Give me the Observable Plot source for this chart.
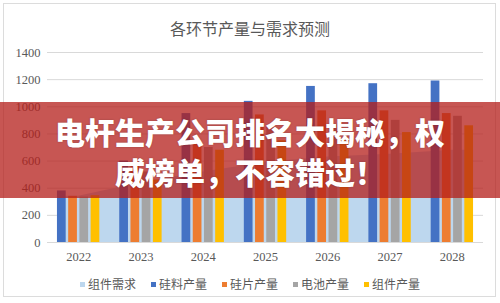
<!DOCTYPE html>
<html>
<head>
<meta charset="utf-8">
<script src="https://cdn.jsdelivr.net/npm/d3@7"></script>
<script src="https://cdn.jsdelivr.net/npm/@observablehq/plot@0.6"></script>
<style>
  html, body { margin: 0; padding: 0; background: #fff; }
  #wrap { position: relative; width: 500px; height: 303px; overflow: hidden; }
  #frame { position: absolute; left: 3px; top: 3px; width: 493px; height: 294px; border: 1px solid #dcdcdc; box-sizing: border-box; }
  #title { position: absolute; left: 0; top: 16px; width: 500px; text-align: center; font: 16px "Noto Sans CJK SC", sans-serif; color: #595959; }
  #legend { position: absolute; left: 0; top: 275px; width: 500px; display: flex; justify-content: center; gap: 15px; font: 12px "Noto Sans CJK SC", sans-serif; color: #595959; }
  #legend span.sw { display: inline-block; width: 5px; height: 5px; margin-right: 3px; vertical-align: middle; position: relative; top: -1px; }
  #banner { position: absolute; left: 0; top: 102px; width: 500px; height: 96px; background: rgba(180,30,25,0.75); }
  #btext { position: absolute; left: 0; top: 111px; width: 500px; text-align: center; color: #fff; font: 900 30px/40px "Noto Sans CJK SC", sans-serif; text-shadow: 0 0 2px rgba(0,0,0,0.25); }
  #chart { position: absolute; left: 0; top: 0; }
</style>
</head>
<body>
<div id="wrap">
  <div id="frame"></div>
  <div id="chart"></div>
  <div id="title">各环节产量与需求预测</div>
  <div id="legend"></div>
  <div id="banner"></div>
  <div id="btext">电杆生产公司排名大揭秘，权<br>威榜单，不容错过！</div>
</div>
<script>
const years = [2022, 2023, 2024, 2025, 2026, 2027, 2028];
const demand  = [340, 440, 520, 590, 630, 650, 680];   // 组件需求
const silicon = [380, 600, 950, 1040, 1150, 1170, 1190]; // 硅料产量
const wafer   = [340, 570, 730, 940, 970, 970, 950];   // 硅片产量
const cell    = [335, 520, 700, 850, 870, 900, 930];   // 电池产量
const moduleP = [345, 460, 680, 750, 760, 810, 860];   // 组件产量
const seriesNames = ["组件需求", "硅料产量", "硅片产量", "电池产量", "组件产量"];
const colors = ["#BDD7EE", "#4472C4", "#ED7D31", "#A5A5A5", "#FFC000"];
const yTicks = [0, 200, 400, 600, 800, 1000, 1200, 1400];

const barSeries = [silicon, wafer, cell, moduleP];
const slot = 0.18, barW = 0.14, half = 0.34;
const bars = [];
barSeries.forEach((vals, si) => {
  vals.forEach((v, i) => {
    const c = years[i] + (si - 1.5) * slot;
    bars.push({x1: c - barW / 2, x2: c + barW / 2, value: v, series: seriesNames[si + 1]});
  });
});
const areaData = [
  {x: years[0] - half, y: demand[0]},
  ...years.map((yr, i) => ({x: yr, y: demand[i]})),
  {x: years[years.length - 1] + half, y: demand[demand.length - 1]}
];

const chart = Plot.plot({
  width: 500,
  height: 303,
  marginTop: 52,
  marginBottom: 61,
  marginLeft: 47,
  marginRight: 17,
  style: {fontFamily: "'Liberation Serif', serif", fontSize: "12.5px", color: "#595959", background: "transparent"},
  x: {domain: [2021.5, 2028.5], ticks: years, tickFormat: "d", tickSize: 0, tickPadding: 10, label: null},
  y: {domain: [0, 1400], ticks: yTicks, tickFormat: "d", tickSize: 0, tickPadding: 7, label: null},
  color: {domain: seriesNames, range: colors},
  marks: [
    Plot.gridY(yTicks, {stroke: "#d9d9d9", strokeOpacity: 1}),
    Plot.areaY(areaData, {x: "x", y: "y", fill: colors[0]}),
    Plot.rect(bars, {x1: "x1", x2: "x2", y1: 0, y2: "value", fill: "series"}),
    Plot.ruleY([0], {stroke: "#d9d9d9"})
  ]
});
document.getElementById("chart").appendChild(chart);

const legend = document.getElementById("legend");
seriesNames.forEach((n, i) => {
  const item = document.createElement("div");
  item.innerHTML = `<span class="sw" style="background:${colors[i]}"></span>${n}`;
  legend.appendChild(item);
});
</script>
</body>
</html>
